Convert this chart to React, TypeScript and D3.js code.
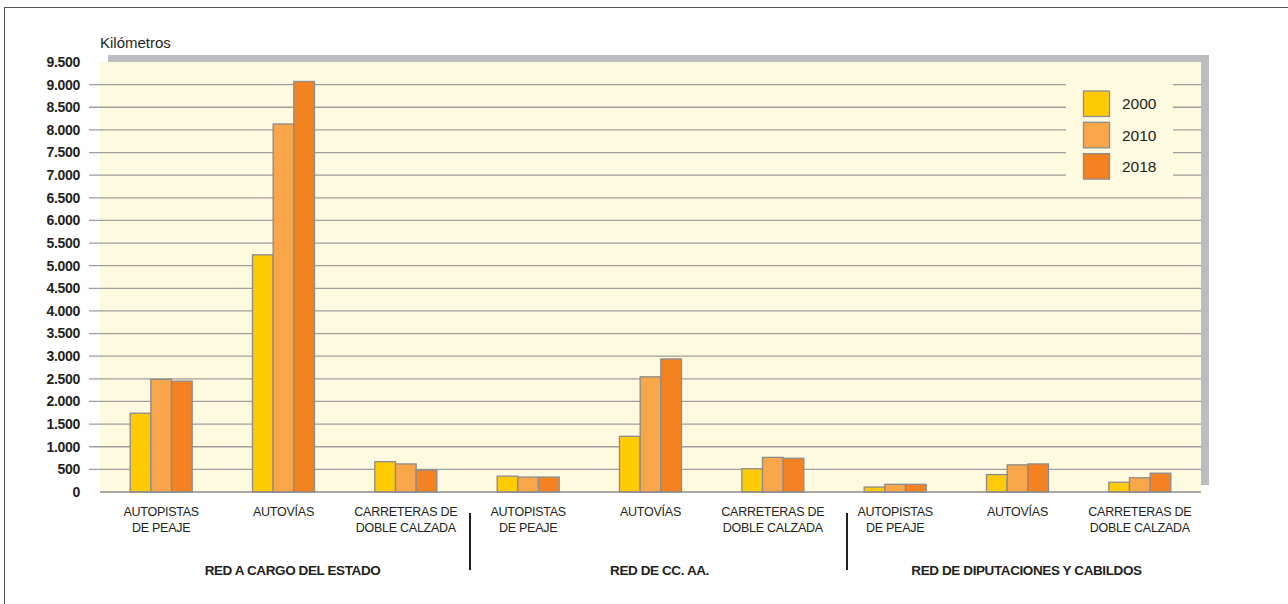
import { useEffect, useRef } from "react";
import * as d3 from "d3";

// Kilómetros de vías de gran capacidad por red y tipo
const networks = ["RED A CARGO DEL ESTADO", "RED DE CC. AA.", "RED DE DIPUTACIONES Y CABILDOS"];
const roadTypes = [["AUTOPISTAS", "DE PEAJE"], ["AUTOVÍAS"], ["CARRETERAS DE", "DOBLE CALZADA"]];
const years = ["2000", "2010", "2018"];
const yearColors = ["#FFCB05", "#F9A64A", "#F58220"];

const values2000 = [1740, 5240, 670, 350, 1230, 515, 110, 385, 215];
const values2010 = [2490, 8130, 620, 330, 2545, 765, 170, 600, 315];
const values2018 = [2450, 9070, 485, 330, 2940, 745, 170, 620, 415];

const yTicks = d3.range(0, 9501, 500);

const WIDTH = 1288;
const HEIGHT = 604;
const FONT = "'Liberation Sans', Arial, sans-serif";

export default function App() {
  const svgRef = useRef<SVGSVGElement>(null);

  useEffect(() => {
    if (!svgRef.current) return;
    const svg = d3.select(svgRef.current);
    svg.selectAll("*").remove();

    const plot = { left: 100, right: 1201, top: 62, bottom: 492 };
    const depth = { dx: 8, dy: 7 };

    const categories = networks.flatMap((n, i) => roadTypes.map((_, j) => `${i}-${j}`));
    const series = [values2000, values2010, values2018];

    const x = d3.scaleBand<string>().domain(categories).range([plot.left, plot.right]).padding(0);
    const xInner = d3.scaleBand<string>().domain(years).range([0, 62]).padding(0);
    const y = d3.scaleLinear().domain([0, 9500]).range([plot.bottom, plot.top]);

    const esFormat = d3.formatLocale({ decimal: ",", thousands: ".", grouping: [3], currency: ["", " €"] }).format(",");

    // outer frame
    svg.append("rect")
      .attr("x", 4.5).attr("y", 7.5)
      .attr("width", WIDTH + 10).attr("height", HEIGHT + 10)
      .attr("fill", "white").attr("stroke", "#555").attr("stroke-width", 1);

    // back wall shadow + wall
    svg.append("rect")
      .attr("x", plot.left + depth.dx).attr("y", plot.top - depth.dy)
      .attr("width", plot.right - plot.left).attr("height", plot.bottom - plot.top)
      .attr("fill", "#BCBDC0");
    svg.append("rect")
      .attr("x", plot.left).attr("y", plot.top)
      .attr("width", plot.right - plot.left).attr("height", plot.bottom - plot.top)
      .attr("fill", "#FEFADF");

    // grid lines (extend left as ticks)
    svg.append("g")
      .selectAll("line")
      .data(yTicks.filter((t) => t > 0 && t < 9500))
      .join("line")
      .attr("x1", 89).attr("x2", plot.right)
      .attr("y1", (d) => y(d)).attr("y2", (d) => y(d))
      .attr("stroke", "#9E9E9E").attr("stroke-width", 1.3);

    // y labels
    svg.append("g")
      .selectAll("text")
      .data(yTicks)
      .join("text")
      .attr("x", 80).attr("y", (d) => y(d))
      .attr("dy", "0.35em")
      .attr("text-anchor", "end")
      .attr("font-family", FONT)
      .attr("font-weight", "bold")
      .attr("font-size", 14)
      .attr("letter-spacing", -0.3)
      .attr("fill", "#231F20")
      .text((d) => esFormat(d));

    svg.append("text")
      .attr("x", plot.left).attr("y", 48)
      .attr("font-family", FONT)
      .attr("font-size", 15)
      .attr("fill", "#231F20")
      .text("Kilómetros");

    // legend
    const legend = svg.append("g");
    legend.append("rect")
      .attr("x", 1066).attr("y", 78).attr("width", 107).attr("height", 110)
      .attr("fill", "#FEFADF");
    years.forEach((yr, i) => {
      legend.append("rect")
        .attr("x", 1083.5).attr("y", 91 + i * 31.3)
        .attr("width", 26).attr("height", 25.5)
        .attr("fill", yearColors[i]).attr("stroke", "#8C8C8C").attr("stroke-width", 1.3);
      legend.append("text")
        .attr("x", 1122).attr("y", 91 + i * 31.3 + 13)
        .attr("dy", "0.35em")
        .attr("font-family", FONT)
        .attr("font-size", 15.5)
        .attr("fill", "#231F20")
        .text(yr);
    });

    // bars
    const bars = svg.append("g");
    series.forEach((vals, si) => {
      bars.append("g")
        .selectAll("rect")
        .data(vals)
        .join("rect")
        .attr("x", (_, i) => (x(categories[i]) as number) + x.bandwidth() / 2 - 31 + (xInner(years[si]) as number))
        .attr("y", (d) => y(d))
        .attr("width", xInner.bandwidth())
        .attr("height", (d) => y(0) - y(d))
        .attr("fill", yearColors[si])
        .attr("stroke", "#8C8C8C")
        .attr("stroke-width", 1.3);
    });

    // base line
    svg.append("line")
      .attr("x1", plot.left).attr("x2", plot.right)
      .attr("y1", plot.bottom).attr("y2", plot.bottom)
      .attr("stroke", "#8C8C8C").attr("stroke-width", 1.5);

    // category labels
    const catLabels = svg.append("g")
      .attr("font-family", FONT)
      .attr("font-size", 12.5)
      .attr("letter-spacing", -0.25)
      .attr("fill", "#231F20")
      .attr("text-anchor", "middle");
    categories.forEach((c, i) => {
      const lines = roadTypes[i % 3];
      const cx = (x(c) as number) + x.bandwidth() / 2;
      const t = catLabels.append("text").attr("x", cx).attr("y", 516);
      lines.forEach((ln, k) => {
        t.append("tspan")
          .attr("x", cx)
          .attr("dy", k === 0 ? 0 : 16)
          .text(ln);
      });
    });

    // group labels
    networks.forEach((n, i) => {
      const mid = categories[i * 3 + 1];
      svg.append("text")
        .attr("x", (x(mid) as number) + x.bandwidth() / 2 + 9)
        .attr("y", 575)
        .attr("text-anchor", "middle")
        .attr("font-family", FONT)
        .attr("font-weight", "bold")
        .attr("font-size", 13.5)
        .attr("letter-spacing", -0.4)
        .attr("fill", "#231F20")
        .text(n);
    });

    // separators between networks
    const sepOffsets = [3, 13];
    [3, 6].forEach((b, i) => {
      const sx = (x(categories[b]) as number) + sepOffsets[i];
      svg.append("line")
        .attr("x1", sx).attr("x2", sx)
        .attr("y1", 513).attr("y2", 570)
        .attr("stroke", "#231F20").attr("stroke-width", 2);
    });
  }, []);

  return (
    <div style={{ position: "absolute", left: 0, top: 0, width: WIDTH, height: HEIGHT, overflow: "hidden" }}>
      <svg ref={svgRef} width={WIDTH} height={HEIGHT} style={{ display: "block", background: "white" }} />
    </div>
  );
}
